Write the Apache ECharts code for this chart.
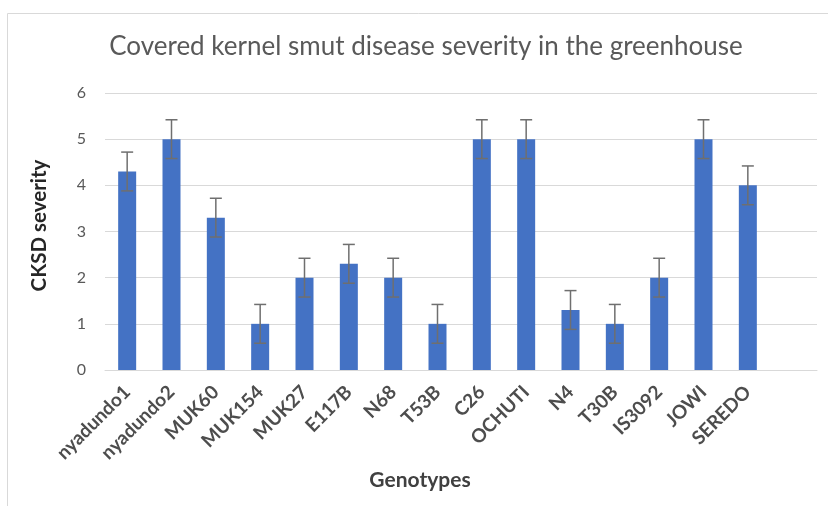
<!DOCTYPE html>
<html><head><meta charset="utf-8">
<script src="https://cdn.jsdelivr.net/npm/echarts@6/dist/echarts.min.js"></script>
<style>html,body{margin:0;padding:0;background:#fff}#c{width:828px;height:506px}</style>
</head><body><div id="c"></div>
<script>
const categories = ["nyadundo1","nyadundo2","MUK60","MUK154","MUK27","E117B","N68","T53B","C26","OCHUTI","N4","T30B","IS3092","JOWI","SEREDO"];
const severity = [4.3,5,3.3,1,2,2.3,2,1,5,5,1.3,1,2,5,4];
const errorMargin = [0.42,0.42,0.42,0.42,0.42,0.42,0.42,0.42,0.42,0.42,0.42,0.42,0.42,0.42,0.42];
const yTicks = [0,1,2,3,4,5,6];

const chart = echarts.init(document.getElementById('c'));
const font = 'Lato, "Open Sans", sans-serif';
const yMin = yTicks[0], yMax = yTicks[yTicks.length-1];
chart.setOption({
  animation: false,
  graphic: [{type:'rect', shape:{x:7.5,y:13.5,width:830,height:500}, style:{fill:'none',stroke:'#d9d9d9',lineWidth:1}, silent:true}],
  title: {text:'Covered kernel smut disease severity in the greenhouse', left:421, textAlign:'center', top:29,
    textStyle:{fontFamily:font, fontSize:26, fontWeight:'normal', color:'#595959'}},
  grid: [
    {left:105, right:58, top:93, bottom:136},
    {left:105, right:11, top:93, bottom:136}
  ],
  xAxis: [
    {type:'category', gridIndex:0, data:categories, name:'Genotypes', nameLocation:'middle', nameGap:98,
      nameTextStyle:{fontFamily:font, fontSize:21, fontWeight:'bold', color:'#404040', padding:[0,35,0,0]},
      axisLine:{show:false}, axisTick:{show:false},
      axisLabel:{rotate:45, interval:0, margin:19, fontFamily:font, fontSize:19, fontWeight:'bold', color:'#4d4d4d'}},
    {type:'value', gridIndex:1, min:0, max:1, axisLine:{show:true, lineStyle:{color:'#d9d9d9'}}, axisTick:{show:false},
      axisLabel:{show:false}, splitLine:{show:false}}
  ],
  yAxis: [
    {type:'value', gridIndex:0, min:yMin, max:yMax, interval:1, name:'CKSD severity', nameLocation:'middle', nameGap:55,
      nameTextStyle:{fontFamily:font, fontSize:20.5, fontWeight:'bold', color:'#262626', padding:[0,0,0,12]},
      axisLine:{show:false}, axisTick:{show:false},
      axisLabel:{margin:19, fontFamily:font, fontSize:16, color:'#595959'},
      splitLine:{show:false}},
    {type:'value', gridIndex:1, min:yMin, max:yMax, interval:1, axisLine:{show:false}, axisTick:{show:false},
      axisLabel:{show:false}, splitLine:{lineStyle:{color:'#d9d9d9'}}}
  ],
  series: [
    {type:'bar', xAxisIndex:0, yAxisIndex:0, data:severity, barWidth:18, z:3, itemStyle:{color:'#4472C4'}},
    {type:'custom', xAxisIndex:0, yAxisIndex:0, z:5, data:severity.map((v,i)=>[i, v-errorMargin[i], v+errorMargin[i]]),
      renderItem:function(params, api){
        const lo = api.coord([api.value(0), api.value(1)]);
        const hi = api.coord([api.value(0), api.value(2)]);
        const hw = 6;
        const st = {stroke:'#6f6f6f', lineWidth:1.5};
        return {type:'group', children:[
          {type:'line', shape:{x1:hi[0],y1:hi[1],x2:lo[0],y2:lo[1]}, style:st},
          {type:'line', shape:{x1:hi[0]-hw,y1:hi[1],x2:hi[0]+hw,y2:hi[1]}, style:st},
          {type:'line', shape:{x1:lo[0]-hw,y1:lo[1],x2:lo[0]+hw,y2:lo[1]}, style:st}
        ]};
      }}
  ]
});
</script></body></html>
